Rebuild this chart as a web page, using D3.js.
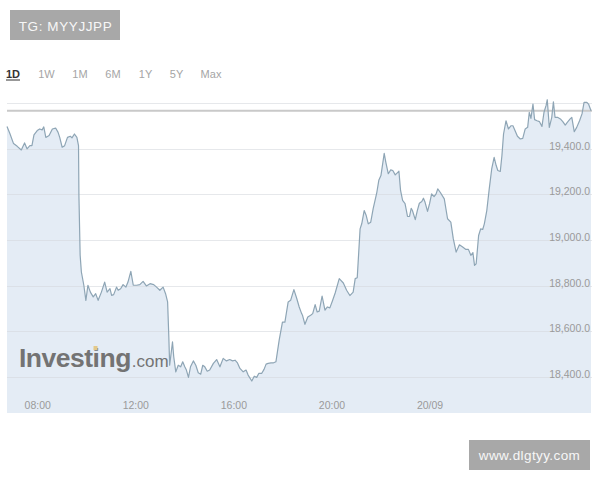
<!DOCTYPE html>
<html>
<head>
<meta charset="utf-8">
<script src="https://cdn.jsdelivr.net/npm/d3@7"></script>
<style>
  html, body { margin: 0; padding: 0; background: #fff; }
  svg { display: block; font-family: "Liberation Sans", Arial, sans-serif; }
</style>
</head>
<body>
<svg id="chart" width="600" height="480"></svg>
<script>
// ---- data (minutes since 00:00 on 19/09, price) ----
const minutes = [406,413,422,431,441,449,455,462,467,472,480,486,492,496,501,509,517,525,531,535,541,547,554,561,565,571,577,581,582,585,588,594,599,604,610,617,623,629,637,645,651,658,662,667,674,678,684,690,697,702,709,715,723,731,739,747,756,765,772,780,788,794,799,802,804,811,814,819,825,831,836,841,845,850,855,862,868,874,880,885,890,896,902,911,919,927,935,943,951,958,964,970,976,984,991,996,1005,1011,1017,1022,1029,1035,1040,1045,1052,1057,1064,1072,1080,1086,1094,1100,1108,1115,1121,1127,1129,1135,1142,1149,1154,1160,1165,1170,1177,1184,1190,1196,1202,1209,1219,1229,1237,1245,1253,1258,1263,1270,1274,1280,1285,1290,1296,1302,1311,1316,1321,1329,1333,1339,1345,1350,1356,1361,1365,1369,1374,1380,1386,1391,1395,1398,1405,1410,1415,1421,1425,1429,1435,1440,1445,1451,1456,1460,1466,1476,1484,1492,1498,1505,1513,1521,1529,1535,1541,1546,1550,1554,1560,1565,1570,1574,1580,1586,1592,1598,1603,1607,1613,1617,1621,1627,1633,1639,1644,1649,1655,1662,1668,1674,1680,1684,1688,1693,1697,1703,1709,1715,1720,1725,1728,1733,1739,1743,1747,1753,1760,1766,1772,1777,1784,1788,1794,1800,1807,1813,1818,1825,1829,1835];
const prices = [19497,19466,19422,19410,19394,19425,19399,19413,19413,19460,19479,19486,19482,19495,19449,19457,19486,19490,19471,19449,19406,19413,19449,19454,19447,19464,19449,19413,19195,18933,18860,18802,18736,18802,18772,18751,18765,18736,18772,18816,18772,18787,18758,18761,18794,18780,18787,18805,18794,18816,18863,18802,18802,18805,18819,18799,18809,18805,18794,18780,18794,18765,18729,18576,18452,18554,18489,18423,18452,18445,18467,18445,18431,18399,18445,18471,18452,18419,18413,18452,18445,18426,18431,18460,18477,18445,18482,18471,18477,18471,18474,18462,18438,18423,18431,18409,18383,18404,18399,18416,18416,18434,18457,18460,18462,18462,18467,18562,18641,18641,18729,18736,18783,18744,18707,18678,18671,18631,18663,18671,18678,18717,18685,18689,18755,18693,18707,18703,18732,18768,18831,18812,18780,18757,18772,18831,18835,19049,19071,19129,19107,19071,19078,19137,19209,19263,19282,19379,19340,19290,19307,19304,19285,19294,19301,19217,19173,19159,19103,19103,19139,19129,19089,19129,19161,19169,19183,19165,19125,19159,19202,19190,19202,19224,19209,19180,19093,19078,19006,18947,18979,18969,18959,18959,18933,18945,18889,18896,19020,19049,19046,19071,19129,19224,19311,19362,19326,19304,19300,19369,19464,19522,19486,19500,19500,19479,19454,19442,19445,19486,19493,19559,19532,19595,19527,19522,19518,19497,19559,19588,19614,19493,19537,19605,19537,19537,19530,19518,19503,19515,19530,19537,19474,19493,19522,19552,19602,19602,19595,19566];
const prevClose = 19566;
const xTickMinutes = [480, 720, 960, 1200, 1440];
const xTickLabels = ["08:00", "12:00", "16:00", "20:00", "20/09"];
const yTickValues = [18400, 18600, 18800, 19000, 19200, 19400];
const gridValues = [18400, 18600, 18800, 19000, 19200, 19400, 19600];
const rangeTabs = ["1D", "1W", "1M", "6M", "1Y", "5Y", "Max"];
const tabCenters = [13, 46.5, 80, 113, 145.5, 176.5, 211];
const watermarkTop = "TG: MYYJJPP";
const watermarkBottom = "www.dlgtyy.com";

(function () {
const n = Math.min(minutes.length, prices.length);
const data = d3.range(n).map(i => ({ t: minutes[i], v: prices[i] }));

const svg = d3.select("#chart");
const pLeft = 7, pRight = 591, pTop = 102, pBottom = 413;

const x = d3.scaleLinear().domain([406, 1835]).range([pLeft, pRight]);
const y = d3.scaleLinear().domain([18243, 19604]).range([pBottom, pTop]);

// area fill
const area = d3.area().x(d => x(d.t)).y0(pBottom).y1(d => y(d.v));
svg.append("path").datum(data)
  .attr("d", area)
  .attr("fill", "#e4ecf5");

// gridlines
svg.append("g").selectAll("line").data(gridValues).join("line")
  .attr("x1", pLeft).attr("x2", pRight + 1)
  .attr("y1", d => Math.round(y(d)) + 0.5).attr("y2", d => Math.round(y(d)) + 0.5)
  .attr("stroke", "#d6d9dd").attr("stroke-opacity", 0.6).attr("stroke-width", 1);

// previous close reference line
svg.append("line")
  .attr("x1", pLeft).attr("x2", pRight + 1)
  .attr("y1", y(prevClose)).attr("y2", y(prevClose))
  .attr("stroke", "#c9c9c9").attr("stroke-width", 2);

// Investing.com logo
const logo = svg.append("text").attr("x", 19).attr("y", 367).attr("fill", "#737373");
logo.append("tspan").attr("font-size", 26.5).attr("font-weight", "bold")
  .attr("letter-spacing", -0.5).text("Investing");
logo.append("tspan").attr("font-size", 17).attr("dx", 1).text(".com");
svg.append("rect").attr("x", 93.5).attr("y", 346).attr("width", 4).attr("height", 4)
  .attr("fill", "#e3c98a");

// line
const line = d3.line().x(d => x(d.t)).y(d => y(d.v));
svg.append("path").datum(data)
  .attr("d", line)
  .attr("fill", "none")
  .attr("stroke", "#8ea5b5")
  .attr("stroke-width", 1.2)
  .attr("stroke-linejoin", "round");

// y axis labels (right side)
const yAxis = d3.axisLeft(y).tickValues(yTickValues)
  .tickFormat(d => d3.format(",.1f")(d)).tickSize(0).tickPadding(0);
const gy = svg.append("g").attr("transform", "translate(590,0)").call(yAxis);
gy.select(".domain").remove();
gy.selectAll("text").attr("dy", "0.05em").attr("fill", "#9a9a9a")
  .attr("font-size", 10.5).attr("font-family", "Liberation Sans, Arial, sans-serif");

// x axis labels
const xAxis = d3.axisBottom(x).tickValues(xTickMinutes)
  .tickFormat((d, i) => xTickLabels[i]).tickSize(0).tickPadding(0);
const gx = svg.append("g").attr("transform", "translate(0,402)").call(xAxis);
gx.select(".domain").remove();
gx.selectAll("text").attr("fill", "#9a9a9a")
  .attr("font-size", 10.5).attr("font-family", "Liberation Sans, Arial, sans-serif");

// range tabs
svg.append("g").selectAll("text").data(rangeTabs).join("text")
  .attr("x", (d, i) => tabCenters[i]).attr("y", 78)
  .attr("text-anchor", "middle")
  .attr("font-size", 11)
  .attr("font-weight", (d, i) => i === 0 ? "bold" : "normal")
  .attr("fill", (d, i) => i === 0 ? "#333" : "#a5a5a5")
  .text(d => d);
svg.append("line").attr("x1", 6).attr("x2", 20).attr("y1", 80).attr("y2", 80)
  .attr("stroke", "#333").attr("stroke-width", 1);

// watermark boxes
svg.append("rect").attr("x", 10).attr("y", 10).attr("width", 110).attr("height", 30).attr("fill", "#a8a8a8");
svg.append("text").attr("x", 65.5).attr("y", 30.5).attr("text-anchor", "middle")
  .attr("fill", "#f7f7f7").attr("font-size", 13.5).attr("letter-spacing", 0.6).text(watermarkTop);
svg.append("rect").attr("x", 469).attr("y", 440).attr("width", 121).attr("height", 30).attr("fill", "#a8a8a8");
svg.append("text").attr("x", 529.5).attr("y", 459.5).attr("text-anchor", "middle")
  .attr("fill", "#f7f7f7").attr("font-size", 13.5).attr("letter-spacing", 0.4).text(watermarkBottom);
})();
</script>
</body>
</html>
